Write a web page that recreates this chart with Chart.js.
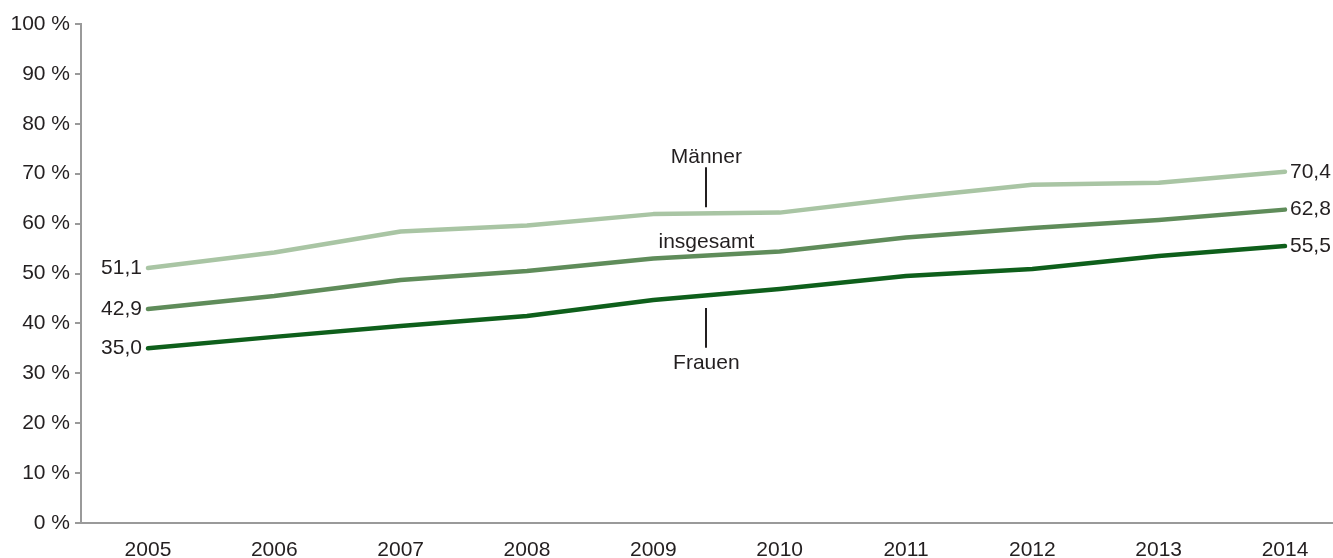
<!DOCTYPE html>
<html lang="de">
<head>
<meta charset="utf-8">
<title>Anteil nach Geschlecht 2005–2014</title>
<script src="https://cdn.jsdelivr.net/npm/chart.js@4/dist/chart.umd.min.js"></script>
<style>
  html, body { margin: 0; padding: 0; background: #fff; }
  #wrap { width: 1333px; height: 558px; position: relative; }
</style>
</head>
<body>
<div id="wrap"><canvas id="grafico"></canvas></div>
<script>
// Daten
const jahre = [2005, 2006, 2007, 2008, 2009, 2010, 2011, 2012, 2013, 2014];
const maenner = [51.1, 54.2, 58.4, 59.6, 61.9, 62.2, 65.2, 67.8, 68.2, 70.4];
const insgesamt = [42.9, 45.5, 48.7, 50.5, 53.0, 54.4, 57.2, 59.1, 60.7, 62.8];
const frauen = [35.0, 37.3, 39.5, 41.5, 44.7, 46.9, 49.5, 50.9, 53.5, 55.5];
const yTicks = [0, 10, 20, 30, 40, 50, 60, 70, 80, 90, 100];

// Beschriftungen im Diagramm (Position in Datenwerten)
const beschriftungen = [
    { text: "Männer", x: 2009.42, y: 73.3, linie: [71.3, 63.3] },
    { text: "insgesamt", x: 2009.42, y: 56.3, linie: null },
    { text: "Frauen", x: 2009.42, y: 32.1, linie: [43.1, 35.1] }
];

const FAMILIE = '"Liberation Sans", Arial, sans-serif';
const GROESSE = 21;
const SCHRIFT = GROESSE + 'px ' + FAMILIE;
const TEXTFARBE = '#231f20';
const ACHSENFARBE = '#9a9a9a';

function zahlDE(v) {
    return v.toFixed(1).replace('.', ',');
}

function serie(werte) {
    return werte.map((v, i) => ({ x: jahre[i], y: v }));
}

const labelPlugin = {
    id: 'labelPlugin',
    afterDatasetsDraw(chart) {
        const ctx = chart.ctx;
        const sx = chart.scales.x;
        const sy = chart.scales.y;
        ctx.save();
        ctx.font = SCHRIFT;
        ctx.fillStyle = TEXTFARBE;
        ctx.textBaseline = 'middle';

        // Start- und Endwerte
        chart.data.datasets.forEach(ds => {
            const erster = ds.data[0];
            const letzter = ds.data[ds.data.length - 1];
            ctx.textAlign = 'right';
            ctx.fillText(zahlDE(erster.y), sx.getPixelForValue(erster.x) - 6, sy.getPixelForValue(erster.y));
            ctx.textAlign = 'left';
            ctx.fillText(zahlDE(letzter.y), sx.getPixelForValue(letzter.x) + 5, sy.getPixelForValue(letzter.y));
        });

        // Reihenbeschriftungen
        ctx.textAlign = 'center';
        beschriftungen.forEach(b => {
            const px = sx.getPixelForValue(b.x);
            ctx.fillText(b.text, px, sy.getPixelForValue(b.y));
            if (b.linie) {
                ctx.beginPath();
                ctx.strokeStyle = TEXTFARBE;
                ctx.lineWidth = 2;
                ctx.moveTo(Math.round(px), sy.getPixelForValue(b.linie[0]));
                ctx.lineTo(Math.round(px), sy.getPixelForValue(b.linie[1]));
                ctx.stroke();
            }
        });
        ctx.restore();
    }
};

const ctx = document.getElementById('grafico').getContext('2d');
new Chart(ctx, {
    type: 'line',
    data: {
        datasets: [
            { label: 'Männer', data: serie(maenner), borderColor: '#a9c5a4' },
            { label: 'insgesamt', data: serie(insgesamt), borderColor: '#5f8c5a' },
            { label: 'Frauen', data: serie(frauen), borderColor: '#0e5f1b' }
        ]
    },
    options: {
        responsive: true,
        maintainAspectRatio: false,
        animation: false,
        layout: { padding: { top: 24, right: 0, left: 0, bottom: 0 } },
        elements: {
            line: { borderWidth: 4.5, tension: 0, borderCapStyle: 'round', borderJoinStyle: 'round', fill: false },
            point: { radius: 0, hoverRadius: 0 }
        },
        plugins: {
            legend: { display: false },
            tooltip: { enabled: false }
        },
        scales: {
            x: {
                type: 'linear',
                min: 2004.47,
                max: 2014.38,
                afterBuildTicks: scale => { scale.ticks = jahre.map(j => ({ value: j })); },
                afterFit: scale => { scale.height = 35; },
                grid: { display: false },
                border: { display: true, color: ACHSENFARBE, width: 2 },
                ticks: {
                    color: TEXTFARBE,
                    font: { family: FAMILIE, size: GROESSE },
                    padding: 7,
                    maxRotation: 0,
                    autoSkip: false,
                    callback: v => String(v)
                }
            },
            y: {
                min: 0,
                max: 100,
                afterBuildTicks: scale => { scale.ticks = yTicks.map(v => ({ value: v })); },
                afterFit: scale => { scale.width = 81; },
                grid: { drawOnChartArea: false, drawTicks: true, tickLength: 6, color: ACHSENFARBE, lineWidth: 2 },
                border: { display: true, color: ACHSENFARBE, width: 2 },
                ticks: {
                    color: TEXTFARBE,
                    font: { family: FAMILIE, size: GROESSE },
                    padding: 5,
                    callback: v => v + ' %'
                }
            }
        }
    },
    plugins: [labelPlugin]
});
</script>
</body>
</html>
